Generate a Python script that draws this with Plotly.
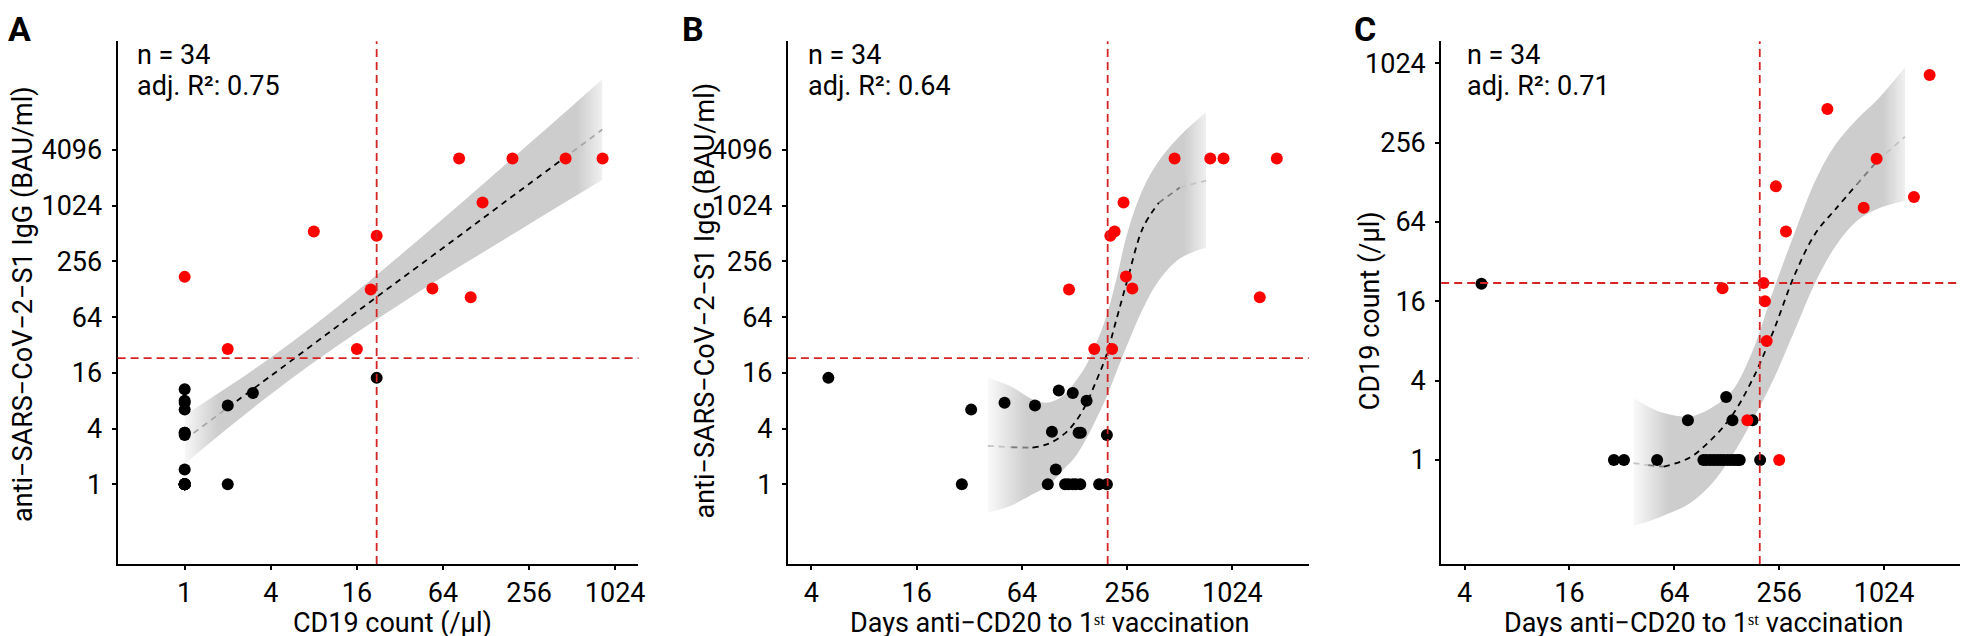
import plotly.graph_objects as go

# ------------------------------------------------------------------ data
# Panel A: CD19 count (/µl) vs anti-SARS-CoV-2-S1 IgG (BAU/ml)
a_black_cd19 = [1] * 17 + [2, 2, 3, 22]
a_black_igg = [10.6, 8.0, 7.6, 6.4, 3.6, 3.6, 3.4, 1.44] + [1] * 9 + [7.1, 1, 9.7, 14.1]
a_red_cd19 = [1, 2, 8, 16, 20, 22, 54, 83, 100, 121, 196, 461, 836]
a_red_igg = [174, 29, 537, 29, 127, 485, 130, 3300, 105, 1110, 3300, 3300, 3300]
a_fit_x = [1, 2, 4, 8, 16, 32, 64, 128, 256, 512, 832]
a_fit_y = [3.03, 6.73, 14.8, 32.9, 73.0, 162, 357, 792, 1758, 3875, 6795]
a_fit_lo = [1.66, 4.03, 9.38, 20.8, 43.7, 88.0, 174, 335, 644, 1235, 1938]
a_fit_hi = [5.58, 11.2, 23.4, 52.0, 122, 296, 739, 1872, 4770, 12240, 23820]

# Panel B: days anti-CD20 to 1st vaccination vs IgG
b_black_days = [5, 29, 32.8, 50.9, 76, 90, 95, 100, 104, 113, 118, 125, 125, 130, 135, 138, 139, 150, 177, 196, 196]
b_black_igg = [14.1, 1, 6.4, 7.6, 7.1, 1, 3.7, 1.44, 10.3, 1, 1, 1, 9.7, 1, 3.6, 1, 3.6, 8.0, 1, 1, 3.4]
b_red_days = [119, 166, 210, 205, 217, 244, 252, 274, 478, 765, 911, 1837, 1468]
b_red_igg = [127, 29, 29, 485, 537, 1110, 176, 130, 3300, 3300, 3300, 3300, 105]
b_fit_x = [40.8, 55.7, 73.5, 90.5, 111.4, 128, 147, 169, 194, 223, 256, 315, 388, 512, 724]
b_fit_y = [2.60, 2.51, 2.48, 2.73, 3.48, 4.59, 6.96, 12.6, 24.3, 61.8, 158, 588, 1097, 1607, 1911]
b_fit_lo = [0.49, 0.59, 0.78, 0.97, 1.46, 1.93, 2.93, 4.92, 8.57, 16.6, 32, 78.8, 158, 274, 362]
b_fit_hi = [14.1, 11.3, 8.28, 7.62, 9.19, 12.6, 18.4, 32, 64, 169, 512, 1552, 3104, 5793, 10440]

# Panel C: days anti-CD20 to 1st vaccination vs CD19 count
c_black_days = [5, 28.8, 32.9, 51, 76.6, 127, 138, 180, 199,
                94, 98, 103, 108, 113, 118, 123, 129, 135, 141, 147, 152]
c_black_cd19 = [21.7, 1, 1, 1, 2, 3, 2, 2, 1] + [1] * 12
c_red_days = [121, 168, 208, 212, 217, 245, 256, 280, 484, 782, 928, 1520, 1870]
c_red_cd19 = [20.1, 2, 22, 16, 8, 119, 1, 54, 460, 82, 193, 99, 832]
c_fit_x = [37.3, 45.3, 55.7, 78.2, 103.3, 136.2, 179.8, 237.2, 313, 413, 541, 714, 942, 1351]
c_fit_y = [0.946, 0.914, 0.889, 1.04, 1.41, 2.14, 4.08, 9.51, 25.1, 52.3, 80.4, 123, 187, 284]
c_fit_lo = [0.316, 0.341, 0.379, 0.467, 0.646, 1.06, 2.0, 4.08, 9.51, 22.3, 42.2, 64.9, 80.4, 92.4]
c_fit_hi = [2.97, 2.55, 2.27, 2.14, 2.46, 3.29, 6.68, 19.4, 52.3, 132, 249, 383, 545, 955]

# thresholds
igg_cut = 23
cd19_cut = 22
days_cut = 198

n_patients = 34
adj_r2 = ["0.75", "0.64", "0.71"]
panel_letters = ["A", "B", "C"]

ticks_cd19_x = [1, 4, 16, 64, 256, 1024]
ticks_days = [4, 16, 64, 256, 1024]
ticks_igg = [1, 4, 16, 64, 256, 1024, 4096]
ticks_cd19_y = [1, 4, 16, 64, 256, 1024]

x_title_cd19 = "CD19 count (/µl)"
x_title_days = "Days anti\u2212CD20 to 1\u02e2\u1d57 vaccination"
y_title_igg = "anti\u2212SARS\u2212CoV\u22122\u2212S1 IgG (BAU/ml)"
y_title_cd19 = "CD19 count (/µl)"

# ------------------------------------------------------------------ style / layout
W, H = 1968, 636
FONT = "Roboto"
FS = 27
RED_PT = "#ff0000"
RED_LINE = "rgb(214,36,36)"
BAND = "rgba(205,205,205,{a})"
TXT = dict(family=FONT, size=FS, color="black")


def fx(p):
    return p / W


def fy(p):
    return 1 - p / H


panels = [
    dict(xd=(110, 632.7), xr=(-0.469, 3.173), yr=(-0.862, 4.786),
         xt=ticks_cd19_x, yt=ticks_igg,
         black=(a_black_cd19, a_black_igg), red=(a_red_cd19, a_red_igg),
         fit=(a_fit_x, a_fit_y, a_fit_lo, a_fit_hi),
         fade=(0.08, 0.15, 0.06, 0.3), nfade=1,
         vcut=cd19_cut, hcut=igg_cut,
         xtitle=x_title_cd19, xtc=386, xty=615, ytitle=y_title_igg, ytx=15, ytc=296,
         letter_x=12, stat_x=127),
    dict(xd=(782.7, 1305.4), xr=(0.4675, 3.447), yr=(-0.862, 4.786),
         xt=ticks_days, yt=ticks_igg,
         black=(b_black_days, b_black_igg), red=(b_red_days, b_red_igg),
         fit=(b_fit_x, b_fit_y, b_fit_lo, b_fit_hi),
         fade=(0.18, 0.1, 0.1, 0.3), nfade=2,
         vcut=days_cut, hcut=igg_cut,
         xtitle=x_title_days, xtc=1046, xty=615, ytitle=y_title_igg, ytx=699, ytc=293,
         letter_x=687, stat_x=801),
    dict(xd=(1438.3, 1961.7), xr=(0.4678, 3.4618), yr=(-0.789, 3.176),
         xt=ticks_days, yt=ticks_cd19_y,
         black=(c_black_days, c_black_cd19), red=(c_red_days, c_red_cd19),
         fit=(c_fit_x, c_fit_y, c_fit_lo, c_fit_hi),
         fade=(0.13, 0.1, 0.08, 0.3), nfade=2,
         vcut=days_cut, hcut=cd19_cut,
         xtitle=x_title_days, xtc=1702, xty=615, ytitle=y_title_cd19, ytx=1367, ytc=303,
         letter_x=1362, stat_x=1462),
]

fig = go.Figure()
layout = dict(
    width=W, height=H, autosize=False,
    margin=dict(l=0, r=0, t=0, b=0),
    paper_bgcolor="white", plot_bgcolor="white",
    showlegend=False,
    font=TXT,
    annotations=[], shapes=[],
)

ydom = [fy(556), fy(33.3)]

for i, p in enumerate(panels, start=1):
    xa, ya = f"x{i}" if i > 1 else "x", f"y{i}" if i > 1 else "y"
    common = dict(type="log", showgrid=False, zeroline=False, showline=True,
                  linecolor="black", linewidth=2, ticks="outside", ticklen=4,
                  tickwidth=1.5, tickcolor="black", tickfont=TXT)
    layout[f"xaxis{i if i > 1 else ''}"] = dict(
        common, domain=[fx(p["xd"][0]), fx(p["xd"][1])], range=list(p["xr"]),
        anchor=ya, tickvals=p["xt"], ticktext=[str(v) for v in p["xt"]])
    layout[f"yaxis{i if i > 1 else ''}"] = dict(
        common, domain=ydom, range=list(p["yr"]), anchor=xa,
        tickvals=p["yt"], ticktext=[str(v) for v in p["yt"]],
        ticklabelstandoff=4)

    x_fit, y_fit, lo, hi = p["fit"]
    fl, al, fr, ar = p["fade"]
    # confidence band with horizontal fade at both ends
    fig.add_trace(go.Scatter(x=x_fit, y=lo, mode="lines", xaxis=xa, yaxis=ya,
                             line=dict(width=0, shape="spline"), hoverinfo="skip"))
    fig.add_trace(go.Scatter(
        x=x_fit, y=hi, mode="lines", xaxis=xa, yaxis=ya,
        line=dict(width=0, shape="spline"), fill="tonexty",
        fillcolor=BAND.format(a=1),
        fillgradient=dict(type="horizontal", colorscale=[
            [0, BAND.format(a=al)], [fl, BAND.format(a=1)],
            [1 - fr, BAND.format(a=1)], [1, BAND.format(a=ar)]]),
        hoverinfo="skip"))

    # fitted dashed line, faded at the ends
    n = len(x_fit)
    k = p["nfade"]
    fade_cols = ["#c4c4c4", "#7a7a7a"]
    for s in range(k):
        col = fade_cols[s] if k == 2 else "#a8a8a8"
        for idx in (s, n - 2 - s):
            fig.add_trace(go.Scatter(
                x=x_fit[idx:idx + 2], y=y_fit[idx:idx + 2], mode="lines",
                xaxis=xa, yaxis=ya, hoverinfo="skip",
                line=dict(color=col, width=1.8, dash="6px,5px")))
    fig.add_trace(go.Scatter(
        x=x_fit[k:n - k], y=y_fit[k:n - k], mode="lines", xaxis=xa, yaxis=ya,
        hoverinfo="skip",
        line=dict(color="black", width=1.8, dash="6px,5px", shape="spline")))

    # points
    bx, by = p["black"]
    rx, ry = p["red"]
    fig.add_trace(go.Scatter(x=bx, y=by, mode="markers", xaxis=xa, yaxis=ya,
                             marker=dict(color="black", size=12, line=dict(width=0))))
    fig.add_trace(go.Scatter(x=rx, y=ry, mode="markers", xaxis=xa, yaxis=ya,
                             marker=dict(color=RED_PT, size=12, line=dict(width=0))))

    # threshold lines
    layout["shapes"].append(dict(type="line", xref=xa, yref=f"{ya} domain",
                                 x0=p["vcut"], x1=p["vcut"], y0=0, y1=1, layer="above",
                                 line=dict(color=RED_LINE, width=1.8, dash="8px,5px")))
    layout["shapes"].append(dict(type="line", xref=f"{xa} domain", yref=ya,
                                 x0=0, x1=1, y0=p["hcut"], y1=p["hcut"], layer="above",
                                 line=dict(color=RED_LINE, width=1.8, dash="8px,5px")))

    ann = layout["annotations"]
    ann.append(dict(xref="paper", yref="paper", x=fx(p["letter_x"]), y=fy(21),
                    text=f"<b>{panel_letters[i - 1]}</b>", showarrow=False,
                    xanchor="center", yanchor="middle",
                    font=dict(family=FONT, size=34, color="black")))
    ann.append(dict(xref="paper", yref="paper", x=fx(p["stat_x"]), y=fy(47),
                    text=f"n = {n_patients}", showarrow=False, font=TXT,
                    xanchor="left", yanchor="middle"))
    ann.append(dict(xref="paper", yref="paper", x=fx(p["stat_x"]), y=fy(78),
                    text=f"adj. R\u00b2: {adj_r2[i - 1]}", showarrow=False,
                    font=TXT, xanchor="left", yanchor="middle"))
    ann.append(dict(xref="paper", yref="paper", x=fx(p["xtc"]), y=fy(p["xty"]),
                    text=p["xtitle"], showarrow=False, font=TXT,
                    xanchor="center", yanchor="middle"))
    ann.append(dict(xref="paper", yref="paper", x=fx(p["ytx"]), y=fy(p["ytc"]),
                    text=p["ytitle"], showarrow=False, textangle=-90, font=TXT,
                    xanchor="center", yanchor="middle"))

for t in fig.data:
    t.showlegend = False

fig.update_layout(**layout)
fig.write_html("out.html")
